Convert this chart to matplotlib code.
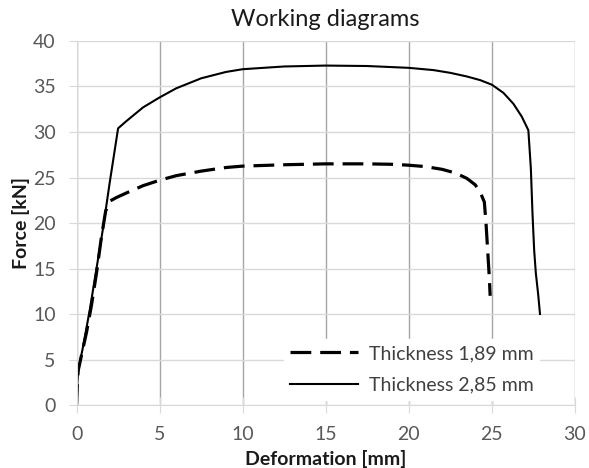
import matplotlib
matplotlib.use("Agg")
import matplotlib.pyplot as plt
import numpy as np

plt.rcParams['font.family'] = ['Lato', 'DejaVu Sans']

# Thickness 1,89 mm
def_189 = [0.0, 0.05, 0.1, 0.3, 0.6, 0.9, 1.2, 1.5, 1.75, 2.0, 2.4, 3.0, 4.0, 5.0, 6.0, 7.5,
           9.0, 10.0, 12.5, 15.0, 17.5, 19.0, 20.0, 21.0, 22.0, 22.8, 23.5, 24.0, 24.3,
           24.55, 24.65, 24.75, 24.85, 24.9]
force_189 = [0.0, 2.5, 3.8, 5.5, 8.0, 11.0, 14.5, 18.5, 21.3, 22.4, 22.8, 23.3, 24.1, 24.7, 25.2, 25.7,
             26.1, 26.25, 26.4, 26.5, 26.5, 26.45, 26.35, 26.2, 25.9, 25.5, 24.9, 24.2, 23.4,
             22.3, 20.0, 17.0, 14.0, 12.0]

# Thickness 2,85 mm
def_285 = [0.0, 0.05, 0.1, 0.4, 0.8, 1.2, 1.6, 2.0, 2.5, 3.0, 4.0, 5.0, 6.0, 7.5, 9.0, 10.0,
           12.5, 15.0, 17.5, 20.0, 21.5, 22.5, 23.5, 24.3, 25.0, 25.7, 26.3, 26.8, 27.2,
           27.35, 27.45, 27.55, 27.65, 27.8, 27.9]
force_285 = [0.0, 2.5, 3.8, 6.5, 10.5, 15.0, 19.5, 24.5, 30.4, 31.2, 32.7, 33.8, 34.8, 35.9, 36.6, 36.9,
             37.2, 37.3, 37.25, 37.05, 36.8, 36.5, 36.1, 35.7, 35.2, 34.3, 33.1, 31.7, 30.2,
             26.0, 21.0, 17.0, 14.5, 12.0, 10.0]

label_189 = "Thickness 1,89 mm"
label_285 = "Thickness 2,85 mm"
x_ticks = [0, 5, 10, 15, 20, 25, 30]
y_ticks = [0, 5, 10, 15, 20, 25, 30, 35, 40]

fig = plt.figure(figsize=(5.89, 4.68), dpi=100)
ax = fig.add_axes([0.13, 0.1346, 0.846, 0.7778])

ax.plot(def_189, force_189, color='black', lw=2.3, linestyle=(0, (6.5, 2.8)),
        label=label_189, dash_capstyle='butt')
ax.plot(def_285, force_285, color='black', lw=1.5, label=label_285)

ax.set_xlim(0, 30)
ax.set_ylim(0, 40)
ax.set_xticks(x_ticks)
ax.set_yticks(y_ticks)

ax.xaxis.grid(True, color='#a6a6a6', lw=1.0)
ax.yaxis.grid(True, color='#d9d9d9', lw=1.0)
ax.set_axisbelow(True)

for side in ['top', 'right']:
    ax.spines[side].set_visible(False)
ax.spines['left'].set_color('#d9d9d9')
ax.spines['bottom'].set_color('#d9d9d9')
ax.tick_params(axis='y', colors='#d9d9d9', length=6, labelcolor='#595959', labelsize=14, pad=9)
ax.tick_params(axis='x', colors='#d9d9d9', direction='inout', length=12,
               labelcolor='#595959', labelsize=14, pad=9)

ax.set_title("Working diagrams", fontsize=17, color='#1a1a1a', pad=11)
ax.set_xlabel("Deformation [mm]", fontsize=14, fontweight='bold', color='#1a1a1a', labelpad=5)
ax.set_ylabel("Force [kN]", fontsize=14, fontweight='bold', color='#1a1a1a', labelpad=2)

leg = ax.legend(loc='lower right', bbox_to_anchor=(0.948, -0.012), frameon=True, fontsize=14,
                handlelength=3.5, labelspacing=0.75, borderpad=0.3, handletextpad=0.55)
leg.get_frame().set_edgecolor('white')
leg.get_frame().set_facecolor('white')
leg.get_frame().set_alpha(1.0)
leg.get_frame().set_boxstyle('square', pad=0)
leg.set_zorder(2.4)
for t in leg.get_texts():
    t.set_color('#404040')

fig.savefig("out.png", dpi=100)
